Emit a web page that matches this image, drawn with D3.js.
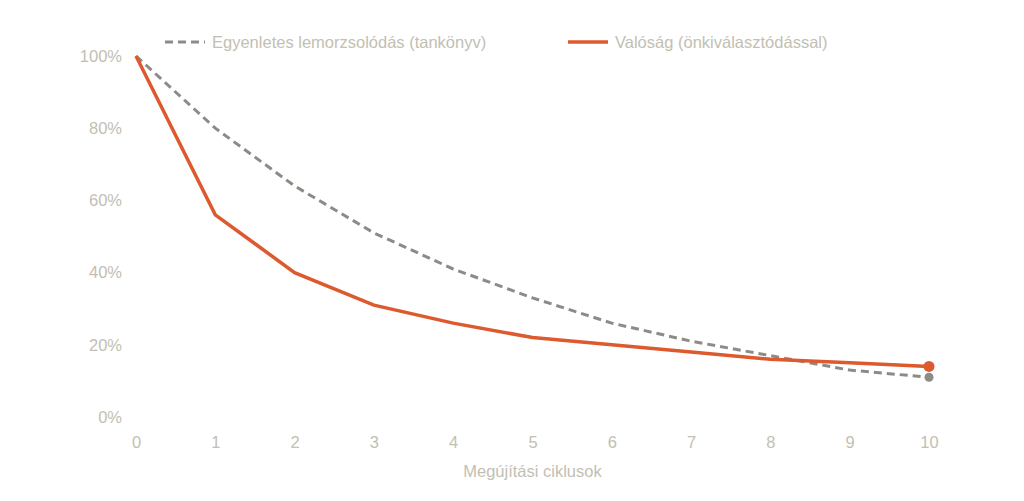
<!DOCTYPE html>
<html>
<head>
<meta charset="utf-8">
<script src="https://cdn.jsdelivr.net/npm/d3@7"></script>
<style>
  body { margin: 0; background: #fff; }
  svg text { font-family: "Liberation Sans", Arial, sans-serif; fill: #c2c0b2; }
</style>
</head>
<body>
<svg id="chart" width="1024" height="501"></svg>
<script>
// data
const cycles = [0, 1, 2, 3, 4, 5, 6, 7, 8, 9, 10];
const textbook = [100, 80, 64, 51, 41, 33, 26, 21, 17, 13, 11];
const reality = [100, 56, 40, 31, 26, 22, 20, 18, 16, 15, 14];
const yTicks = [0, 20, 40, 60, 80, 100];
const seriesNames = ["Egyenletes lemorzsolódás (tankönyv)", "Valóság (önkiválasztódással)"];

const gray = "#8c8b85";
const orange = "#dc5a2e";

const svg = d3.select("#chart");

// plot area
const plotLeft = 136, plotRight = 929, plotTop = 56, plotBottom = 417;

const x = d3.scaleLinear().domain([0, 10]).range([plotLeft, plotRight]);
const y = d3.scaleLinear().domain([0, 100]).range([plotBottom, plotTop]);

// y axis labels
svg.append("g")
    .attr("transform", `translate(${plotLeft - 14}, 0)`)
    .call(d3.axisLeft(y).tickValues(yTicks).tickSize(0).tickFormat(d => d + "%"))
    .call(g => g.select(".domain").remove())
    .selectAll("text")
    .style("font-size", "16.5px")
    .attr("x", 0);

// x axis labels
svg.append("g")
    .attr("transform", `translate(0, ${plotBottom + 16})`)
    .call(d3.axisBottom(x).tickValues(cycles).tickSize(0).tickFormat(d3.format("d")))
    .call(g => g.select(".domain").remove())
    .selectAll("text")
    .style("font-size", "16.5px");

svg.selectAll(".tick text").style("fill", "#c2c0b2");

// x axis title
svg.append("text")
    .attr("x", (plotLeft + plotRight) / 2)
    .attr("y", 477)
    .attr("text-anchor", "middle")
    .style("font-size", "16.5px")
    .text("Megújítási ciklusok");

const line = d3.line()
    .x((d, i) => x(cycles[i]))
    .y(d => y(d));

// textbook line (dashed)
svg.append("path")
    .datum(textbook)
    .attr("fill", "none")
    .attr("stroke", gray)
    .attr("stroke-width", 3)
    .attr("stroke-dasharray", "8,5")
    .attr("d", line);

// reality line
svg.append("path")
    .datum(reality)
    .attr("fill", "none")
    .attr("stroke", orange)
    .attr("stroke-width", 3.5)
    .attr("d", line);

// end points
svg.append("circle")
    .attr("cx", x(cycles[10]))
    .attr("cy", y(textbook[10]))
    .attr("r", 4.5)
    .attr("fill", gray);

svg.append("circle")
    .attr("cx", x(cycles[10]))
    .attr("cy", y(reality[10]))
    .attr("r", 5.5)
    .attr("fill", orange);

// legend
const legend = svg.append("g");

legend.append("line")
    .attr("x1", 165).attr("x2", 205)
    .attr("y1", 42).attr("y2", 42)
    .attr("stroke", gray)
    .attr("stroke-width", 3)
    .attr("stroke-dasharray", "8,5");

legend.append("text")
    .attr("x", 212)
    .attr("y", 48)
    .style("font-size", "16.5px")
    .text(seriesNames[0]);

legend.append("line")
    .attr("x1", 568).attr("x2", 608)
    .attr("y1", 42).attr("y2", 42)
    .attr("stroke", orange)
    .attr("stroke-width", 3.5);

legend.append("text")
    .attr("x", 615)
    .attr("y", 48)
    .style("font-size", "16.5px")
    .text(seriesNames[1]);
</script>
</body>
</html>
